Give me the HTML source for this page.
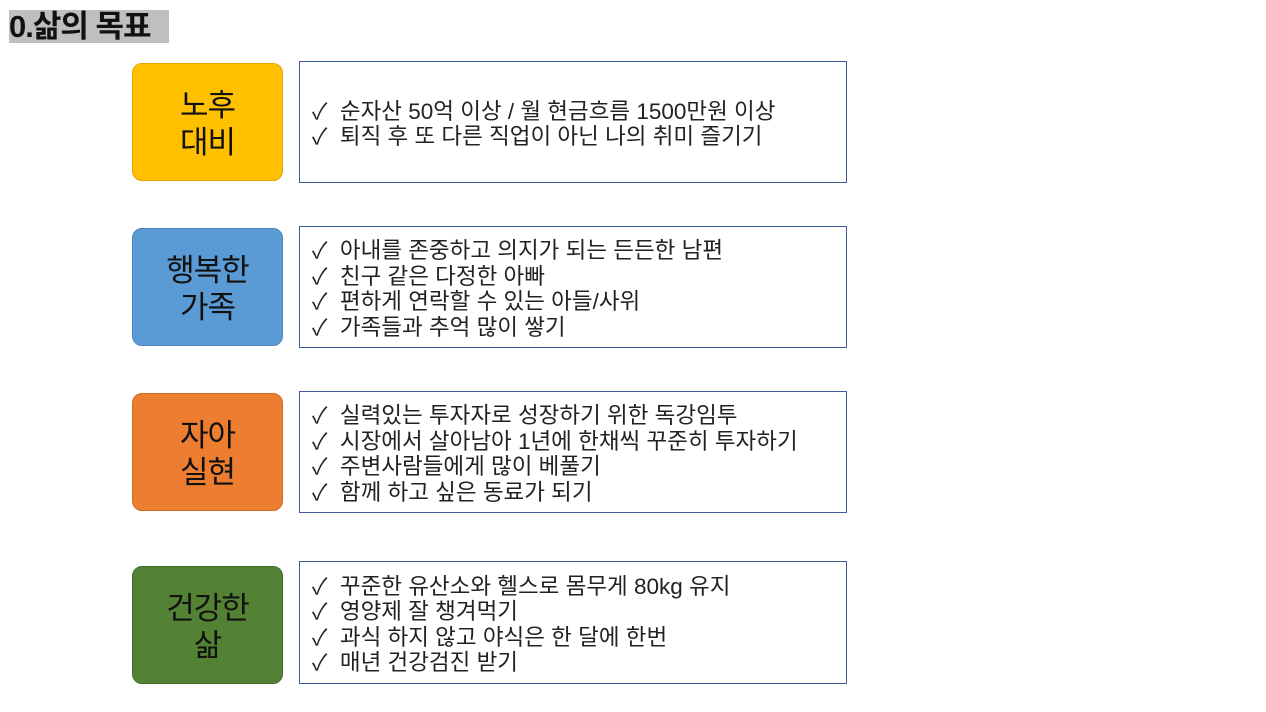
<!DOCTYPE html>
<html><head><meta charset="utf-8"><style>
body{margin:0;width:1266px;height:712px;background:#fff;position:relative;overflow:hidden;font-family:"Liberation Sans","Noto Sans CJK KR",sans-serif;}
.t{position:absolute;left:9px;top:10px;width:160px;height:33px;background:#bfbfbf;font-size:31px;font-weight:bold;line-height:33px;color:#111;letter-spacing:-1px;}
.l{position:absolute;box-sizing:border-box;left:132px;width:151px;height:118px;border-radius:10px;display:flex;align-items:center;justify-content:center;text-align:center;font-size:31px;line-height:37px;color:#111;letter-spacing:-1px;padding-top:4px;}
.r{position:absolute;left:299px;width:548px;border:1.5px solid #3b5c9a;box-sizing:border-box;display:flex;flex-direction:column;justify-content:center;padding-left:12px;padding-top:4px;font-size:22.5px;line-height:25.5px;color:#222;}
</style></head><body>
<div class="t">0.삶의 목표</div>
<div class="l" style="top:63px;background:#FFC000;border:1px solid #e0a800">노후<br>대비</div>
<div class="r" style="top:61px;height:122px">✓&nbsp; 순자산 50억 이상 / 월 현금흐름 1500만원 이상<br>✓&nbsp; 퇴직 후 또 다른 직업이 아닌 나의 취미 즐기기</div>
<div class="l" style="top:228px;background:#5B9BD5;border:1px solid #4a84bb">행복한<br>가족</div>
<div class="r" style="top:226px;height:122px">✓&nbsp; 아내를 존중하고 의지가 되는 든든한 남편<br>✓&nbsp; 친구 같은 다정한 아빠<br>✓&nbsp; 편하게 연락할 수 있는 아들/사위<br>✓&nbsp; 가족들과 추억 많이 쌓기</div>
<div class="l" style="top:393px;background:#ED7D31;border:1px solid #d06a25">자아<br>실현</div>
<div class="r" style="top:391px;height:122px">✓&nbsp; 실력있는 투자자로 성장하기 위한 독강임투<br>✓&nbsp; 시장에서 살아남아 1년에 한채씩 꾸준히 투자하기<br>✓&nbsp; 주변사람들에게 많이 베풀기<br>✓&nbsp; 함께 하고 싶은 동료가 되기</div>
<div class="l" style="top:566px;background:#548235;border:1px solid #436b2a">건강한<br>삶</div>
<div class="r" style="top:561px;height:123px">✓&nbsp; 꾸준한 유산소와 헬스로 몸무게 80kg 유지<br>✓&nbsp; 영양제 잘 챙겨먹기<br>✓&nbsp; 과식 하지 않고 야식은 한 달에 한번<br>✓&nbsp; 매년 건강검진 받기</div>
</body></html>
